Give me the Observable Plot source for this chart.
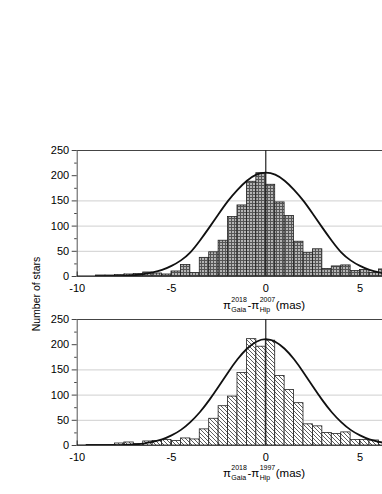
<!DOCTYPE html>
<html><head><meta charset="utf-8">
<script src="https://cdn.jsdelivr.net/npm/d3@7"></script>
<script src="https://cdn.jsdelivr.net/npm/@observablehq/plot@0.6"></script>
<style>
body{margin:0;background:#fff;font-family:"Liberation Sans",Arial,sans-serif;}
#wrap{position:relative;width:382px;height:494px;overflow:hidden;background:#fff;}
.panel{position:absolute;left:0;}
.ylab{position:absolute;left:36px;top:294px;transform:translate(-50%,-50%) rotate(-90deg);font-size:10.5px;white-space:nowrap;color:#000;}
.xl{position:absolute;left:264px;transform:translateX(-50%);font-size:11.5px;white-space:nowrap;color:#000;height:14px;}
.xl > span{position:relative;display:inline-block;vertical-align:baseline;}
.ss{width:auto;height:11px;font-size:7px;line-height:7px;margin:0 0.5px;}
.ss .sp{position:absolute;left:0;top:-7px;}
.ss .sb{position:absolute;left:0;top:3px;}
.ss .w{visibility:hidden;}
</style></head>
<body><div id="wrap">
<div id="top" class="panel" style="top:140px"></div>
<div id="bot" class="panel" style="top:309.3px"></div>
<div class="ylab">Number of stars</div>
<div class="xl" style="top:299px">π<span class="ss"><span class="w">2018</span><span class="sp">2018</span><span class="sb">Gaia</span></span>-π<span class="ss"><span class="w">2007</span><span class="sp">2007</span><span class="sb">Hip</span></span>(mas)</div>
<div class="xl" style="top:467px">π<span class="ss"><span class="w">2018</span><span class="sp">2018</span><span class="sb">Gaia</span></span>-π<span class="ss"><span class="w">1997</span><span class="sp">1997</span><span class="sb">Hip</span></span>(mas)</div>
</div>
<script>
// ---- data ----
const binWidth = 0.5;
const binLeftTop = [-9,-8.5,-8,-7.5,-7,-6.5,-6,-5.5,-5,-4.5,-4,-3.5,-3,-2.5,-2,-1.5,-1,-0.5,0,0.5,1,1.5,2,2.5,3,3.5,4,4.5,5,5.5,6];
const countsTop  = [2,2,3,4,5,8,6,4,10,23,7,37,48,71,118,141,188,205,182,147,120,69,47,54,15,20,22,11,13,7,14];
const binLeftBottom = [-9.5,-9,-8.5,-8,-7.5,-7,-6.5,-6,-5.5,-5,-4.5,-4,-3.5,-3,-2.5,-2,-1.5,-1,-0.5,0,0.5,1,1.5,2,2.5,3,3.5,4,4.5,5,5.5,6];
const countsBottom  = [1,1,1,4,6,3,8,9,11,9,14,12,32,53,78,97,144,211,196,208,138,110,84,42,38,25,23,26,11,11,10,6];
const curveX = [-10,-9.5,-9,-8.5,-8,-7.5,-7,-6.5,-6,-5.5,-5,-4.5,-4,-3.5,-3,-2.5,-2,-1.5,-1,-0.5,0,0.5,1,1.5,2,2.5,3,3.5,4,4.5,5,5.5,6,6.5,7];
const curveTop = [0.03,0.07,0.15,0.3,0.7,1.3,2.5,4.5,8,13,21,32,48,71,97,124,150,172,190,202,206,202,190,172,150,124,97,71,48,32,21,13,8,4.5,2.5];
const curveBottom = [0.02,0.05,0.1,0.2,0.5,1,2,3.9,7,12,20,31,46.5,66,90,117,145,171,192,206,211,206,192,171,145,117,90,66,46.5,31,20,12,7,3.9,2];
const yTicks = [0,50,100,150,200,250];
const yMinor = [25,75,125,175,225];
const gridY = [50,100,150];
const xTicks = [-10,-5,0,5];
const xMinor = [-7.5,-2.5,2.5];
const xDomain = [-10, 6.19];
const yDomain = [0, 250];

function panel(lefts, counts, curveY, fillId, defs) {
  const bins = lefts.map((x0, i) => ({x0, x1: x0 + binWidth, n: counts[i]}));
  const curve = curveX.map((x, i) => ({x, y: curveY[i]}));
  const svg = Plot.plot({
    width: 382, height: 156,
    marginLeft: 76.7, marginRight: 0, marginTop: 10, marginBottom: 20,
    x: {domain: xDomain},
    y: {domain: yDomain},
    style: {fontSize: "11px", fontFamily: "Liberation Sans, Arial, sans-serif", background: "transparent", color: "#000", overflow: "visible"},
    marks: [
      Plot.ruleY(gridY, {stroke: "#cfcfcf", strokeWidth: 1}),
      Plot.rect(bins, {x1: "x0", x2: "x1", y1: () => 0, y2: "n", fill: `url(#${fillId})`, stroke: "#222", strokeWidth: 0.8, clip: true}),
      Plot.ruleY([250], {stroke: "#444", strokeWidth: 1}),
      Plot.ruleY([0], {stroke: "#444", strokeWidth: 1}),
      Plot.ruleX([-10], {stroke: "#555", strokeWidth: 1}),
      Plot.ruleX([0], {stroke: "#222", strokeWidth: 1.2}),
      Plot.ruleX(xTicks, {y1: 0, y2: 9, stroke: "#333"}),
      Plot.ruleX(xMinor, {y1: 0, y2: 5, stroke: "#333"}),
      Plot.line(curve, {x: "x", y: "y", curve: "natural", stroke: "#111", strokeWidth: 1.8, clip: true}),
      Plot.axisY({ticks: yTicks, tickSize: 5, tickPadding: 3, label: null, stroke: "#444", fill: "#000"}),
      Plot.axisY({ticks: yMinor, tickSize: 2.5, tickFormat: () => "", label: null, stroke: "#444"}),
      Plot.axisX({ticks: xTicks, tickSize: 0, tickPadding: 8, tickFormat: d => String(d), label: null, fill: "#000"})
    ]
  });
  d3.select(svg).insert("defs", ":first-child").html(defs);
  return svg;
}

const meshDefs = `<pattern id="mesh" patternUnits="userSpaceOnUse" width="3" height="3">
  <rect width="3" height="3" fill="#b4b4b4"/>
  <rect x="0" y="0" width="3" height="1" fill="#555"/>
  <rect x="0" y="0" width="1" height="3" fill="#555"/>
</pattern>`;
const hatchDefs = `<pattern id="hatch" patternUnits="userSpaceOnUse" width="4" height="4">
  <rect width="4" height="4" fill="#fff"/>
  <path d="M-1,-1 L5,5 M3,-1 L5,1 M-1,3 L1,5" stroke="#333" stroke-width="0.8"/>
</pattern>`;

document.getElementById("top").appendChild(panel(binLeftTop, countsTop, curveTop, "mesh", meshDefs));
document.getElementById("bot").appendChild(panel(binLeftBottom, countsBottom, curveBottom, "hatch", hatchDefs));
</script>
</body></html>
